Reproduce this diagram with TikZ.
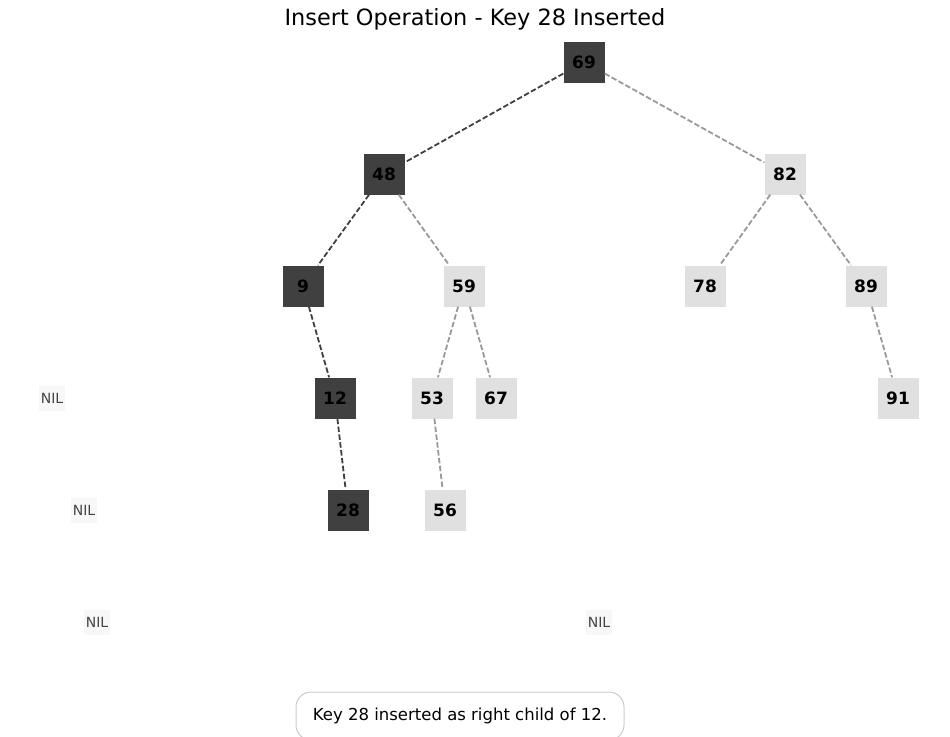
\documentclass[tikz,border=0pt]{standalone}
\usepackage{fontspec}
\setmainfont{DejaVu Sans}
\usetikzlibrary{positioning}
\definecolor{pdark}{HTML}{404040}
\definecolor{plight}{HTML}{E0E0E0}
\definecolor{pedge}{HTML}{999999}
\definecolor{nilfill}{HTML}{F7F7F7}
\definecolor{niltext}{HTML}{444444}
\definecolor{capline}{HTML}{CCCCCC}
\tikzstyle{pathkey} = [rectangle, minimum size=41pt, inner sep=0pt, fill=pdark, text=black, font=\fontsize{17}{20}\selectfont\bfseries]
\tikzstyle{key} = [pathkey, fill=plight]
\tikzstyle{nil} = [rectangle, minimum size=25pt, inner sep=1.5pt, fill=nilfill, text=niltext, font=\fontsize{14}{16}\selectfont]
\tikzstyle{caption} = [rectangle, rounded corners=15pt, draw=capline, line width=1pt, minimum width=328pt, minimum height=48pt, fill=white, font=\fontsize{16.5}{20}\selectfont]
\tikzstyle{pathedge} = [line width=1.8pt, pdark, dash pattern=on 5.5pt off 2.4pt]
\tikzstyle{edge} = [pathedge, pedge]

\begin{document}
\begin{tikzpicture}[x=1pt, y=-1pt]
  \useasboundingbox (0,0) rectangle (950,736);
  \node (title) at (475,19) {\fontsize{22.4}{26}\selectfont Insert Operation - Key 28 Inserted};
  \node (k69) [pathkey] at (584,62) {69};
  \node (k48) [pathkey] at (384,174) {48};
  \node (k82) [key] at (785,174) {82};
  \node (k9) [pathkey] at (303,286) {9};
  \node (k59) [key] at (464,286) {59};
  \node (k78) [key] at (705,286) {78};
  \node (k89) [key] at (866,286) {89};
  \node (k12) [pathkey] at (335,398) {12};
  \node (k53) [key] at (432,398) {53};
  \node (k67) [key] at (496,398) {67};
  \node (k91) [key] at (898,398) {91};
  \node (k28) [pathkey] at (348,510) {28};
  \node (k56) [key] at (445,510) {56};
  \node (nil1) [nil] at (52,398) {NIL};
  \node (nil2) [nil] at (84,510) {NIL};
  \node (nil3) [nil] at (97,622) {NIL};
  \node (nil4) [nil] at (599,622) {NIL};
  \node (msg) [caption] at (460,716) {Key 28 inserted as right child of 12.};
  \draw [pathedge] (k69) -- (k48);
  \draw [edge] (k69) -- (k82);
  \draw [pathedge] (k48) -- (k9);
  \draw [edge] (k48) -- (k59);
  \draw [edge] (k82) -- (k78);
  \draw [edge] (k82) -- (k89);
  \draw [pathedge] (k9) -- (k12);
  \draw [edge] (k59) -- (k53);
  \draw [edge] (k59) -- (k67);
  \draw [edge] (k89) -- (k91);
  \draw [pathedge] (k12) -- (k28);
  \draw [edge] (k53) -- (k56);
\end{tikzpicture}
\end{document}
